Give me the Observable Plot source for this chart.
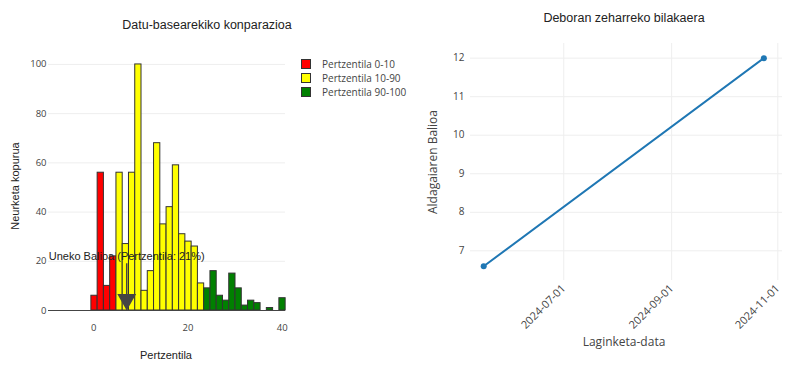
<!DOCTYPE html>
<html>
<head>
<meta charset="utf-8">
<script src="https://cdn.jsdelivr.net/npm/d3@7"></script>
<script src="https://cdn.jsdelivr.net/npm/@observablehq/plot@0.6"></script>
<style>
  html, body { margin: 0; padding: 0; background: #fff; }
  #root { position: relative; width: 800px; height: 374px; overflow: hidden; }
  .abs { position: absolute; white-space: nowrap; }
  .title { font-family: "Liberation Sans", Arial, sans-serif; font-size: 12.5px; color: #222; transform: translate(-50%, -50%); }
  .axtitle { font-family: "Liberation Sans", Arial, sans-serif; font-size: 11px; color: #222; }
  .axtitle2 { font-family: "Open Sans", sans-serif; font-size: 12px; color: #444; }
  .legrow { position: absolute; font-family: "Open Sans", sans-serif; font-size: 10px; color: #444; display: flex; align-items: center; }
  .legrow span.sw { display: inline-block; width: 8px; height: 8px; border: 1px solid #333; margin-right: 11px; }
</style>
</head>
<body>
<div id="root"></div>
<script>
// ---------- Data ----------
const groupLabels = ["Pertzentila 0-10", "Pertzentila 10-90", "Pertzentila 90-100"];
const groupColors = ["#ff0000", "#ffff00", "#008000"];
const redCounts = [6, 56, 10, 22];
const yellowCounts = [56, 27, 56, 100, 8, 16, 68, 35, 42, 59, 31, 28, 26, 11];
const greenCounts = [9, 16, 6, 4, 15, 9, 2, 4, 3, 0, 1, 0, 5];
const binStart = -0.5;
const binWidth = 1.33;
const currentValue = 7;
const annotationText = "Uneko Balioa (Pertzentila: 21%)";
const arrowTailCount = 19;
const histXTicks = [0, 20, 40];
const histYTicks = [0, 20, 40, 60, 80, 100];

const sampleDates = ["2024-05-16", "2024-10-24"];
const sampleValues = [6.6, 12];
const timeXTicks = ["2024-07-01", "2024-09-01", "2024-11-01"];
const timeYTicks = [7, 8, 9, 10, 11, 12];

// ---------- Build histogram table ----------
const allCounts = [redCounts, yellowCounts, greenCounts];
const bins = [];
let idx = 0;
allCounts.forEach((arr, g) => {
  arr.forEach(c => {
    bins.push({group: groupLabels[g], x1: binStart + idx * binWidth, x2: binStart + (idx + 1) * binWidth, count: c});
    idx++;
  });
});

const root = document.getElementById("root");

// ---------- Left chart ----------
const left = Plot.plot({
  width: 290,
  height: 374,
  marginLeft: 48,
  marginRight: 5,
  marginTop: 51,
  marginBottom: 64,
  style: {fontFamily: "Open Sans, sans-serif", fontSize: "9.5px", color: "#444", background: "transparent"},
  x: {domain: [-9.6, 40.7]},
  y: {domain: [0, 105.26]},
  color: {domain: groupLabels, range: groupColors},
  marks: [
    Plot.gridY(histYTicks, {stroke: "#eee", strokeOpacity: 1}),
    Plot.rectY(bins.filter(d => d.count > 0), {x1: "x1", x2: "x2", y: "count", fill: "group", stroke: "#333", strokeWidth: 1}),
    Plot.ruleY([0], {stroke: "#444", strokeWidth: 1}),
    Plot.axisY(histYTicks, {tickSize: 0, tickPadding: 2, label: null, fill: "#444"}),
    Plot.axisX(histXTicks, {tickSize: 0, tickPadding: 14, label: null, fill: "#444"}),
    Plot.ruleX([currentValue], {y1: 0, y2: arrowTailCount, stroke: "#444", strokeWidth: 1.5}),
    Plot.dot([currentValue], {x: d => d, y: 0, symbol: "triangle", rotate: 180, r: 7, fill: "#444", stroke: "none", dy: -11}),
    Plot.text([annotationText], {x: currentValue, y: arrowTailCount, text: d => d, dy: -7, lineAnchor: "middle", fontFamily: "Liberation Sans, Arial, sans-serif", fontSize: 11, fill: "#222"})
  ]
});
left.style.position = "absolute";
left.style.left = "0px";
left.style.top = "0px";
root.appendChild(left);

// ---------- Right chart ----------
const series = sampleDates.map((d, i) => ({date: new Date(d), value: sampleValues[i]}));
const right = Plot.plot({
  width: 390,
  height: 374,
  marginLeft: 60,
  marginRight: 18,
  marginTop: 43,
  marginBottom: 94,
  style: {fontFamily: "Open Sans, sans-serif", fontSize: "10px", color: "#444", background: "transparent"},
  x: {type: "utc", domain: [new Date("2024-05-08T10:00:00Z"), new Date("2024-11-03T17:00:00Z")]},
  y: {domain: [6.23, 12.38]},
  marks: [
    Plot.gridY(timeYTicks, {stroke: "#eee", strokeOpacity: 1}),
    Plot.gridX(timeXTicks.map(d => new Date(d)), {stroke: "#eee", strokeOpacity: 1}),
    Plot.axisY(timeYTicks, {tickSize: 0, tickPadding: 6, label: null, fill: "#444"}),
    Plot.axisX(timeXTicks.map(d => new Date(d)), {tickSize: 0, tickPadding: 6, tickRotate: -45, label: null, fill: "#444", fontSize: 11, tickFormat: d3.utcFormat("%Y-%m-%d")}),
    Plot.line(series, {x: "date", y: "value", stroke: "#1f77b4", strokeWidth: 2}),
    Plot.dot(series, {x: "date", y: "value", r: 3, fill: "#1f77b4"})
  ]
});
right.style.position = "absolute";
right.style.left = "410px";
right.style.top = "0px";
root.appendChild(right);

// ---------- Text overlays ----------
function addDiv(cls, text, css) {
  const el = document.createElement("div");
  el.className = "abs " + cls;
  el.textContent = text;
  Object.assign(el.style, css);
  root.appendChild(el);
  return el;
}
addDiv("title", "Datu-basearekiko konparazioa", {left: "207px", top: "25px"});
addDiv("title", "Deboran zeharreko bilakaera", {left: "624px", top: "18px"});
addDiv("axtitle", "Pertzentila", {left: "166px", top: "355px", transform: "translate(-50%, -50%)"});
addDiv("axtitle", "Neurketa kopurua", {left: "15px", top: "186px", transform: "translate(-50%, -50%) rotate(-90deg)"});
addDiv("axtitle2", "Laginketa-data", {left: "624px", top: "341px", transform: "translate(-50%, -50%)"});
addDiv("axtitle2", "Aldagaiaren Balioa", {left: "432px", top: "162px", transform: "translate(-50%, -50%) rotate(-90deg)"});

// Legend
const legendTops = [63.5, 77.5, 91.5];
groupLabels.forEach((lab, i) => {
  const row = document.createElement("div");
  row.className = "legrow";
  row.style.left = "301px";
  row.style.top = legendTops[i] + "px";
  row.style.transform = "translateY(-50%)";
  const sw = document.createElement("span");
  sw.className = "sw";
  sw.style.background = groupColors[i];
  row.appendChild(sw);
  const t = document.createElement("span");
  t.textContent = lab;
  row.appendChild(t);
  root.appendChild(row);
});
</script>
</body>
</html>
